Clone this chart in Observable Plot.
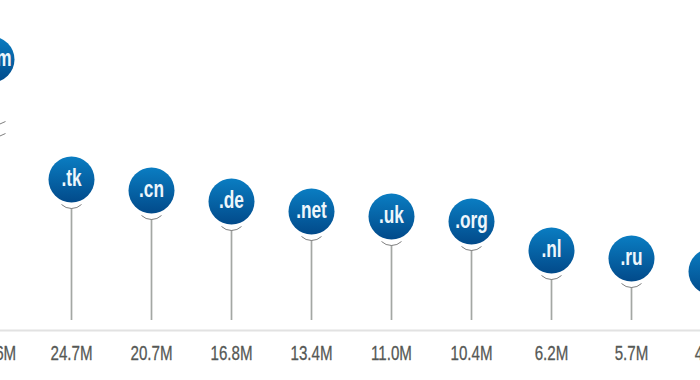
<!DOCTYPE html>
<html>
<head>
<meta charset="utf-8">
<script src="https://cdn.jsdelivr.net/npm/d3@7"></script>
<script src="https://cdn.jsdelivr.net/npm/@observablehq/plot@0.6"></script>
<style>html,body{margin:0;padding:0;background:#fff;overflow:hidden}svg{display:block}</style>
</head>
<body>
<div id="chart"></div>
<script>
const domains = [".com", ".tk", ".cn", ".de", ".net", ".uk", ".org", ".nl", ".ru", ".br"];
const labels = ["112.6M", "24.7M", "20.7M", "16.8M", "13.4M", "11.0M", "10.4M", "6.2M", "5.7M", "4.4M"];
// stem height of each pin above the baseline
const stems = [232, 112, 101, 90, 80, 75, 70, 41, 33, 20];
const breaks = [195, 183];

const FONT = "'Liberation Sans Narrow','Liberation Sans',sans-serif";
const rows = domains.map((d, i) => ({domain: d, label: labels[i], stem: stems[i]}));
const pins = rows.filter(d => d.domain !== ".com");

function arcSymbol(halfWidth, sag) {
  return {
    draw(ctx) {
      const r = (halfWidth * halfWidth + sag * sag) / (2 * sag);
      const a = Math.asin(halfWidth / r);
      ctx.moveTo(-halfWidth, -sag);
      ctx.arc(0, -r, r, Math.PI / 2 + a, Math.PI / 2 - a, true);
    }
  };
}

const plot = Plot.plot({
  width: 700,
  height: 380,
  margin: 0,
  x: {type: "point", domain: domains, range: [-9.2, 711.8], padding: 0, axis: null},
  y: {domain: [0, 320], range: [320, 0], axis: null},
  marks: [
    () => {
      const defs = d3.create("svg:defs");
      const g = defs.append("linearGradient").attr("id", "pin").attr("x1", 0).attr("x2", 0).attr("y1", 0).attr("y2", 1);
      g.append("stop").attr("offset", "0%").attr("stop-color", "#0a7dc2");
      g.append("stop").attr("offset", "100%").attr("stop-color", "#024a8a");
      return defs.node();
    },
    Plot.ruleY([0], {stroke: "#e2e2e2", strokeWidth: 2, dy: 10}),
    Plot.ruleX(pins, {x: "domain", y1: 0, y2: "stem", stroke: "#a4a7a4", strokeWidth: 1.7}),
    Plot.dot(pins, {x: "domain", y: "stem", symbol: arcSymbol(10, 4), r: 1, fill: "none", stroke: "#808080", strokeWidth: 1}),
    Plot.dot(breaks, {x: () => ".com", y: d => d, symbol: arcSymbol(14, 4), r: 1, fill: "none", stroke: "#808080", strokeWidth: 1}),
    Plot.dot(rows, {x: "domain", y: "stem", dy: -29, r: 23, fill: "url(#pin)", stroke: "none"}),
    Plot.text(rows, {x: "domain", y: "stem", dy: -30.5, text: "domain", fill: "#eef6fb", fontSize: 24, fontWeight: 700, fontFamily: FONT, className: "cond"}),
    Plot.text(rows, {x: "domain", y: 0, dy: 33, text: "label", fill: "#555855", stroke: "#555855", strokeWidth: 0.3, fontSize: 21, fontFamily: FONT, className: "cond"})
  ]
});
document.getElementById("chart").appendChild(plot);
plot.querySelectorAll(".cond text").forEach(t => {
  const n = t.getComputedTextLength();
  t.setAttribute("textLength", n * 0.72);
  t.setAttribute("lengthAdjust", "spacingAndGlyphs");
});
</script>
</body>
</html>
